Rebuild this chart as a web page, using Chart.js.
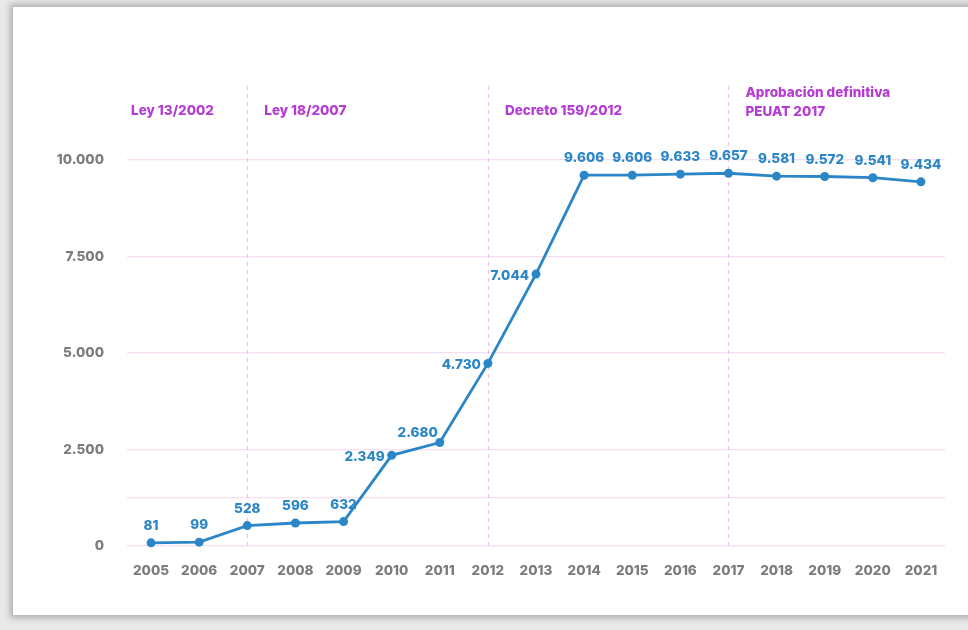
<!DOCTYPE html>
<html lang="es">
<head>
<meta charset="utf-8">
<script src="https://cdn.jsdelivr.net/npm/chart.js@4"></script>
<style>
    html, body { margin: 0; padding: 0; }
    body { width: 968px; height: 630px; background: #e9e9e9; position: relative; overflow: hidden; }
    .panel {
        position: absolute; left: 12px; top: 6px; width: 980px; height: 608px;
        background: #ffffff; border: 1px solid #bdbdbd;
        box-shadow: 0 0 6px 2px rgba(0, 0, 0, 0.25);
    }
    .chart-container { position: absolute; left: 0; top: 0; width: 968px; height: 630px; }
</style>
</head>
<body>
<div class="panel"></div>
<div class="chart-container"><canvas id="plazasChart"></canvas></div>
<script>
const years = ['2005', '2006', '2007', '2008', '2009', '2010', '2011', '2012', '2013',
    '2014', '2015', '2016', '2017', '2018', '2019', '2020', '2021'];
const plazas = [81, 99, 528, 596, 632, 2349, 2680, 4730, 7044,
    9606, 9606, 9633, 9657, 9581, 9572, 9541, 9434];
const yTicks = [0, 2500, 5000, 7500, 10000];
const milestoneYears = ['2007', '2012', '2017'];
const milestoneTexts = [
    { year: null, lines: ['Ley 13/2002'] },
    { year: '2007', lines: ['Ley 18/2007'] },
    { year: '2012', lines: ['Decreto 159/2012'] },
    { year: '2017', lines: ['Aprobación definitiva', 'PEUAT 2017'] }
];

const BLUE = '#2a86c6';
const MAGENTA = '#b63ad6';
const GRID = '#f7dff3';
const FONT = 'Inter, "DejaVu Sans", sans-serif';

// where each value label sits relative to its point
const labelSide = ['top', 'top', 'top', 'top', 'top', 'left', 'topleft', 'left', 'left',
    'top', 'top', 'top', 'top', 'top', 'top', 'top', 'top'];

function fmt(n) {
    return String(n).replace(/\B(?=(\d{3})+(?!\d))/g, '.');
}

const milestonePlugin = {
    id: 'milestones',
    beforeDatasetsDraw(chart) {
        const { ctx, scales: { x }, chartArea } = chart;
        ctx.save();
        ctx.strokeStyle = '#efc3ea';
        ctx.lineWidth = 1.3;
        ctx.setLineDash([4, 4]);
        milestoneYears.forEach(yr => {
            const px = Math.round(x.getPixelForValue(years.indexOf(yr))) + 0.5;
            ctx.beginPath();
            ctx.moveTo(px, 86);
            ctx.lineTo(px, chartArea.bottom);
            ctx.stroke();
        });
        ctx.restore();
    },
    afterDraw(chart) {
        const { ctx, scales: { x } } = chart;
        ctx.save();
        ctx.fillStyle = MAGENTA;
        ctx.font = `800 13.5px ${FONT}`;
        ctx.textBaseline = 'middle';
        milestoneTexts.forEach(m => {
            const left = m.year === null ? 131 : x.getPixelForValue(years.indexOf(m.year)) + 17;
            const startY = m.lines.length > 1 ? 93 : 111;
            m.lines.forEach((line, i) => ctx.fillText(line, left, startY + i * 19));
        });
        ctx.restore();
    }
};

const valueLabelPlugin = {
    id: 'valueLabels',
    afterDatasetsDraw(chart) {
        const { ctx } = chart;
        const meta = chart.getDatasetMeta(0);
        ctx.save();
        ctx.fillStyle = BLUE;
        ctx.font = `800 13.5px ${FONT}`;
        ctx.textBaseline = 'middle';
        meta.data.forEach((pt, i) => {
            const txt = fmt(plazas[i]);
            const side = labelSide[i];
            if (side === 'left') {
                ctx.textAlign = 'right';
                ctx.fillText(txt, pt.x - 7, pt.y + 2);
            } else if (side === 'topleft') {
                ctx.textAlign = 'right';
                ctx.fillText(txt, pt.x - 2, pt.y - 10);
            } else {
                ctx.textAlign = 'center';
                ctx.fillText(txt, pt.x, pt.y - 17);
            }
        });
        ctx.restore();
    }
};

new Chart(document.getElementById('plazasChart').getContext('2d'), {
    type: 'line',
    data: {
        labels: years,
        datasets: [{
            data: plazas,
            borderColor: BLUE,
            backgroundColor: BLUE,
            borderWidth: 2.8,
            pointRadius: 4.5,
            pointBackgroundColor: BLUE,
            pointBorderWidth: 0,
            tension: 0,
            clip: false
        }]
    },
    options: {
        responsive: true,
        maintainAspectRatio: false,
        animation: false,
        layout: { padding: { top: 160, right: 23, left: 0, bottom: 0 } },
        plugins: {
            legend: { display: false },
            tooltip: { enabled: false }
        },
        scales: {
            x: {
                offset: true,
                grid: { display: false },
                border: { display: false },
                ticks: {
                    color: '#7c7c7c',
                    font: { family: FONT, size: 13.5, weight: '800' },
                    padding: 9,
                    maxRotation: 0
                },
                afterFit(axis) { axis.height = 84; }
            },
            y: {
                min: 0,
                max: 10000,
                border: { display: false },
                afterBuildTicks(axis) {
                    axis.ticks = [0, 1250].concat(yTicks.slice(1)).map(v => ({ value: v }));
                },
                grid: {
                    color: GRID,
                    lineWidth: 1.2,
                    drawTicks: false
                },
                ticks: {
                    color: '#7c7c7c',
                    font: { family: FONT, size: 13.5, weight: '800' },
                    padding: 23,
                    callback: v => yTicks.includes(v) ? fmt(v) : ''
                },
                afterFit(axis) { axis.width = 127; }
            }
        }
    },
    plugins: [milestonePlugin, valueLabelPlugin]
});
</script>
</body>
</html>
